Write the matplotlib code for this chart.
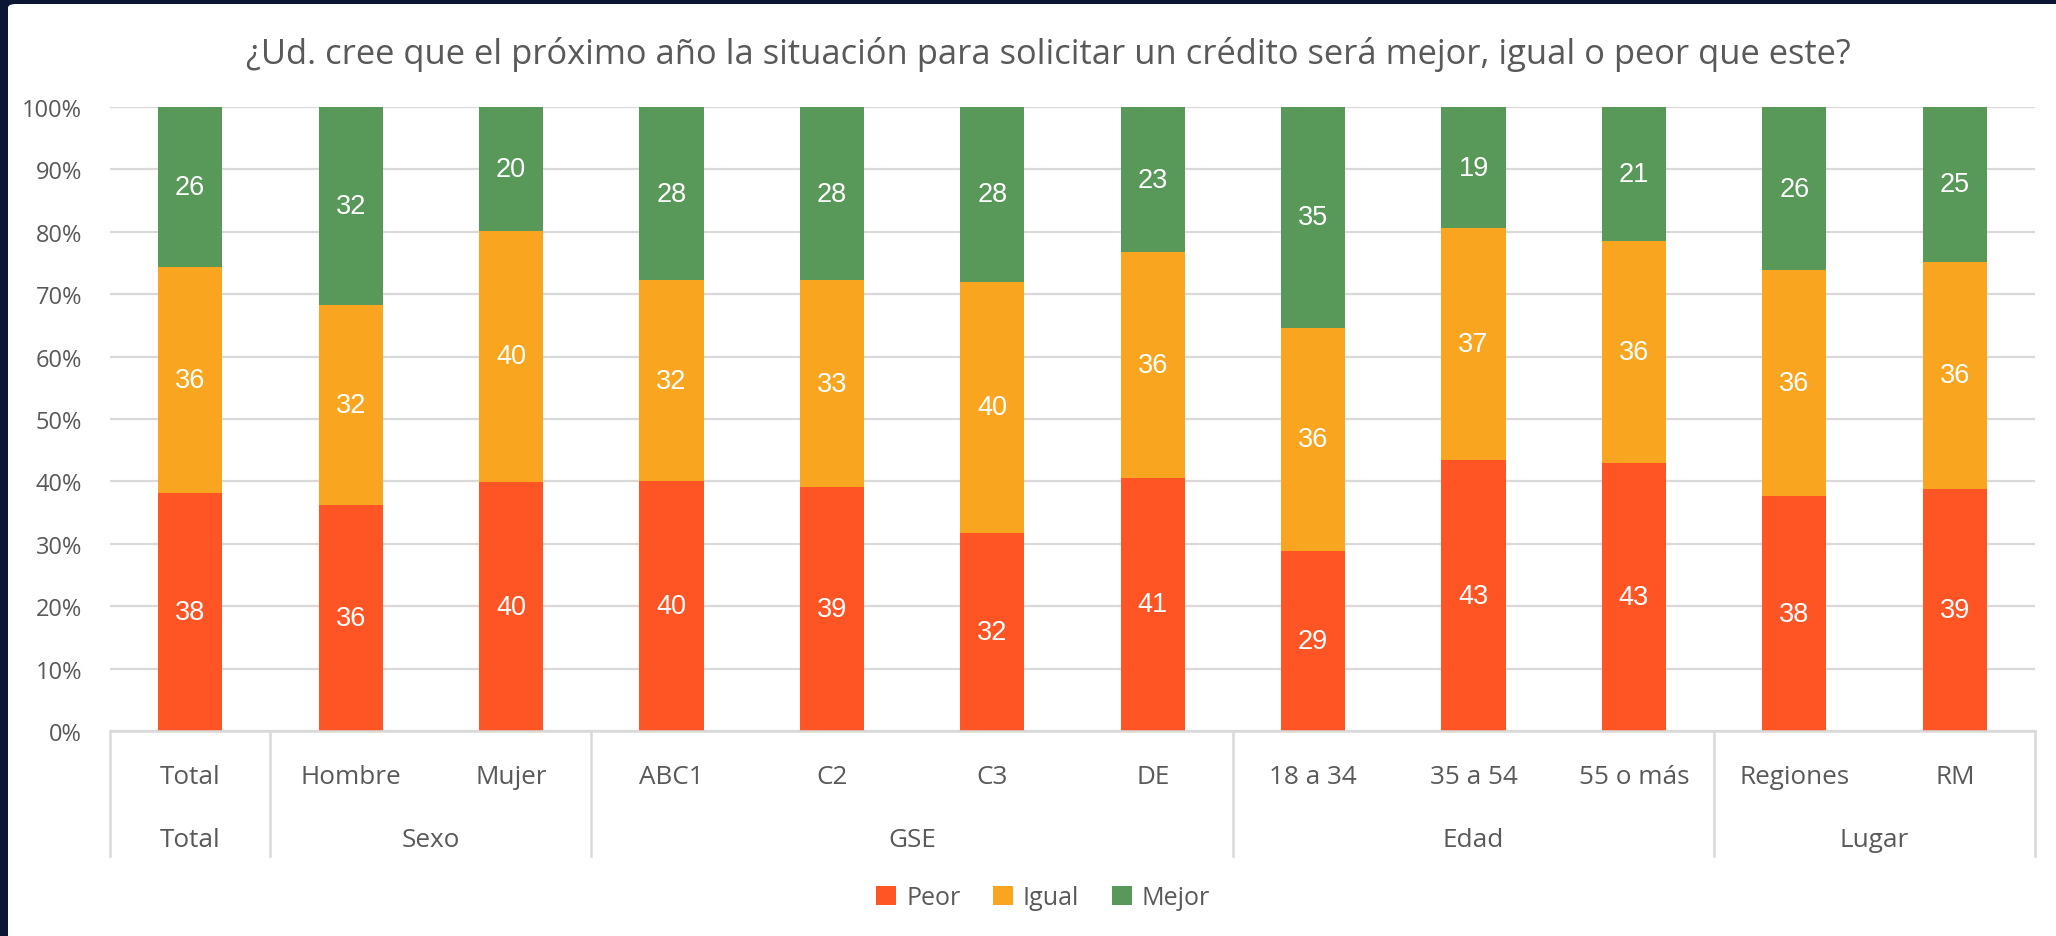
import matplotlib
matplotlib.use("Agg")
import matplotlib.pyplot as plt
from matplotlib.patches import FancyBboxPatch, Patch
import matplotlib.transforms as mtransforms
import numpy as np

# ---- data ----
categories = ["Total", "Hombre", "Mujer", "ABC1", "C2", "C3", "DE",
              "18 a 34", "35 a 54", "55 o más", "Regiones", "RM"]
groups = ["Total", "Sexo", "GSE", "Edad", "Lugar"]
group_sizes = [1, 2, 4, 3, 2]
peor = [38.1, 36.2, 39.9, 40.1, 39.1, 31.7, 40.6, 28.9, 43.4, 42.9, 37.6, 38.8]
igual = [36.3, 32.1, 40.3, 32.1, 33.1, 40.3, 36.1, 35.7, 37.2, 35.7, 36.2, 36.4]
mejor = [25.6, 31.7, 19.8, 27.8, 27.8, 28.0, 23.3, 35.4, 19.4, 21.4, 26.2, 24.8]
series_names = ["Peor", "Igual", "Mejor"]
yticks = [0, 10, 20, 30, 40, 50, 60, 70, 80, 90, 100]
title = "¿Ud. cree que el próximo año la situación para solicitar un crédito será mejor, igual o peor que este?"

colors = ["#FF5525", "#F9A51F", "#58995A"]
text_gray = "#595959"
grid_gray = "#D9D9D9"
main_font = ["Open Sans", "DejaVu Sans"]
label_font = ["Liberation Sans", "DejaVu Sans"]

W, H = 2056, 937
fig = plt.figure(figsize=(W / 100, H / 100), dpi=100)
fig.patch.set_facecolor("#0A1633")

# white panel
panel = FancyBboxPatch((8 / W, -0.05), 1.0, (H - 5) / H + 0.05,
                       boxstyle="round,pad=0,rounding_size=0.004",
                       transform=fig.transFigure, facecolor="white",
                       edgecolor="none", zorder=-10)
fig.patches.append(panel)

ax_left, ax_right = 110 / W, 2035 / W
ax_bottom, ax_top = (H - 732) / H, (H - 108) / H
ax = fig.add_axes([ax_left, ax_bottom, ax_right - ax_left, ax_top - ax_bottom])
ax.set_facecolor("none")
ax.set_zorder(1)

x = np.arange(len(categories))
bw = 0.4
bottoms = np.zeros(len(categories))
for vals, c, name in zip([peor, igual, mejor], colors, series_names):
    vals = np.array(vals)
    ax.bar(x, vals, bw, bottom=bottoms, color=c, label=name, zorder=3)
    for xi, b, v in zip(x, bottoms, vals):
        ax.text(xi, b + v / 2, f"{v:.0f}", ha="center", va="center",
                color="white", fontsize=19.5, family=label_font, zorder=4)
    bottoms = bottoms + vals

ax.set_xlim(-0.5, len(categories) - 0.5)
ax.set_ylim(0, 100)
ax.set_yticks(yticks)
ax.set_yticklabels([f"{t}%" for t in yticks], family=main_font, fontsize=17,
                   color=text_gray)
ax.tick_params(axis="y", length=0, pad=20)
ax.set_xticks([])
ax.grid(axis="y", color=grid_gray, linewidth=1.6, zorder=0)
ax.set_axisbelow(True)
for s in ["top", "right", "left"]:
    ax.spines[s].set_visible(False)
ax.spines["bottom"].set_color(grid_gray)
ax.spines["bottom"].set_linewidth(1.8)
ax.spines["bottom"].set_zorder(5)

trans = mtransforms.blended_transform_factory(ax.transData, ax.transAxes)
px = 1 / 624.0
# category labels
for xi, cat in zip(x, categories):
    ax.text(xi, -46 * px, cat, transform=trans, ha="center", va="center",
            fontsize=18.8, color=text_gray, family=main_font, clip_on=False)
# group separators and labels
start = 0
bounds = [-0.5]
for g, n in zip(groups, group_sizes):
    center = start + (n - 1) / 2
    ax.text(center, -109 * px, g, transform=trans, ha="center", va="center",
            fontsize=18.8, color=text_gray, family=main_font, clip_on=False)
    start += n
    bounds.append(start - 0.5)
for bx in bounds:
    ax.plot([bx, bx], [0, -125 * px], transform=trans, color=grid_gray,
            linewidth=1.8, clip_on=False, zorder=5)

fig.text(0.5 + 20 / W, (H - 55) / H, title, ha="center", va="center",
         fontsize=24.8, color=text_gray, family=main_font)

handles = [Patch(facecolor=c, edgecolor="none", label=n)
           for c, n in zip(colors, series_names)]
fig.legend(handles=handles, loc="center", bbox_to_anchor=(1043 / W, (H - 899) / H),
           ncol=3, frameon=False, prop={"family": main_font, "size": 18},
           labelcolor=text_gray, handlelength=0.8, handleheight=0.8,
           handletextpad=0.4, columnspacing=1.3)

fig.savefig("out.png", dpi=100, facecolor=fig.get_facecolor())
